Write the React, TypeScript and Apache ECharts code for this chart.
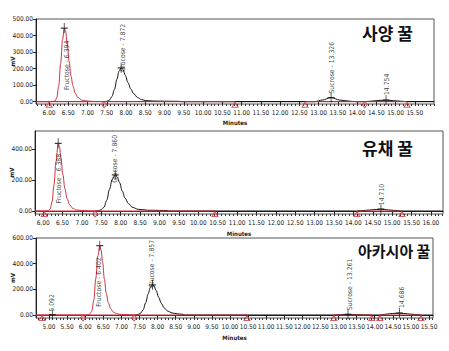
import React, { useEffect, useRef } from 'react';
import * as echarts from 'echarts';

// ---------------- DATA ----------------
// Panel 1 : 사양 꿀  (time [min], mV)
const p1Title = '사양 꿀';
const p1Trace: [number, number][] = [
  [5.66, 0], [6.0, 0], [6.1, 1], [6.16, 6], [6.2, 25], [6.25, 95], [6.3, 230], [6.35, 375], [6.394, 445],
  [6.43, 425], [6.47, 350], [6.52, 245], [6.57, 155], [6.62, 95], [6.68, 50], [6.75, 25], [6.85, 10],
  [6.95, 5], [7.1, 2], [7.25, 1], [7.43, 0], [7.5, 2], [7.57, 10], [7.63, 30], [7.7, 75], [7.76, 135],
  [7.82, 185], [7.872, 205], [7.92, 195], [7.98, 160], [8.05, 115], [8.12, 78], [8.2, 48], [8.3, 25],
  [8.4, 13], [8.5, 7], [8.7, 4], [9.0, 3], [9.4, 2], [9.45, 0], [12.9, 0], [13.1, 10], [13.326, 25],
  [13.55, 10], [13.85, 2], [14.0, 0], [14.2, 0], [14.35, 3], [14.55, 7], [14.754, 10], [14.95, 6],
  [15.3, 0], [16.0, 0],
];
const p1RedRange = [5.66, 7.43];
const p1Peaks = [
  { t: 6.394, v: 445, name: 'Fructose - 6.394' },
  { t: 7.872, v: 205, name: 'Glucose - 7.872' },
  { t: 13.326, v: 25, name: 'Sucrose - 13.326' },
  { t: 14.754, v: 10, name: '14.754' },
];
const p1Marks = [
  { t: 6.0, shape: 'triangle' }, { t: 7.43, shape: 'diamond' }, { t: 10.83, shape: 'triangle' },
  { t: 12.65, shape: 'triangle' }, { t: 14.2, shape: 'diamond' }, { t: 15.3, shape: 'triangle' },
];
const p1Baselines = [[5.66, 10.83], [12.65, 15.3]];
const p1XTicks = [6.0, 6.5, 7.0, 7.5, 8.0, 8.5, 9.0, 9.5, 10.0, 10.5, 11.0, 11.5, 12.0, 12.5, 13.0, 13.5, 14.0, 14.5, 15.0, 15.5];
const p1YTicks = [0, 100, 200, 300, 400, 500];

// Panel 2 : 유채 꿀
const p2Title = '유채 꿀';
const p2Trace: [number, number][] = [
  [5.79, 0], [6.03, 0], [6.12, 2], [6.18, 12], [6.23, 60], [6.28, 170], [6.33, 320], [6.388, 440],
  [6.42, 420], [6.46, 345], [6.51, 235], [6.56, 145], [6.62, 80], [6.68, 42], [6.76, 18], [6.86, 7],
  [7.0, 3], [7.2, 1], [7.34, 0], [7.42, 2], [7.5, 8], [7.57, 25], [7.64, 70], [7.71, 140], [7.78, 205],
  [7.86, 235], [7.91, 222], [7.97, 185], [8.04, 130], [8.11, 85], [8.2, 48], [8.3, 24], [8.45, 11],
  [8.7, 5], [9.0, 4], [9.2, 3], [9.25, 0], [14.09, 0], [14.3, 4], [14.5, 8], [14.71, 12], [14.9, 7],
  [15.25, 0], [16.31, 0],
];
const p2RedRange = [5.79, 7.34];
const p2Peaks = [
  { t: 6.388, v: 440, name: 'Fructose - 6.388' },
  { t: 7.86, v: 235, name: 'Glucose - 7.860' },
  { t: 14.71, v: 12, name: '14.710' },
];
const p2Marks = [
  { t: 6.03, shape: 'triangle' }, { t: 7.34, shape: 'diamond' }, { t: 10.43, shape: 'triangle' },
  { t: 14.09, shape: 'triangle' }, { t: 15.25, shape: 'triangle' },
];
const p2Baselines = [[5.79, 10.43], [14.09, 15.25]];
const p2XTicks = [6.0, 6.5, 7.0, 7.5, 8.0, 8.5, 9.0, 9.5, 10.0, 10.5, 11.0, 11.5, 12.0, 12.5, 13.0, 13.5, 14.0, 14.5, 15.0, 15.5, 16.0];
const p2YTicks = [0, 200, 400];

// Panel 3 : 아카시아 꿀
const p3Title = '아카시아 꿀';
const p3Trace: [number, number][] = [
  [4.64, 0], [5.05, 0], [5.092, 3], [5.14, 0], [5.94, 0], [6.05, 1], [6.12, 6], [6.18, 30], [6.24, 120],
  [6.29, 280], [6.35, 460], [6.402, 540], [6.44, 505], [6.48, 410], [6.53, 280], [6.58, 170], [6.64, 95],
  [6.7, 50], [6.78, 22], [6.88, 9], [7.0, 4], [7.2, 2], [7.35, 0], [7.45, 3], [7.53, 14], [7.6, 40],
  [7.67, 95], [7.74, 165], [7.8, 215], [7.857, 235], [7.9, 226], [7.96, 190], [8.03, 138], [8.1, 92],
  [8.18, 56], [8.28, 30], [8.4, 16], [8.55, 9], [8.7, 5], [8.75, 0], [12.87, 0], [13.05, 3], [13.261, 5],
  [13.5, 3], [13.92, 0], [14.14, 0], [14.3, 6], [14.5, 12], [14.686, 15], [14.9, 9], [15.1, 4],
  [15.28, 0], [15.61, 0],
];
const p3RedRange = [4.64, 7.35];
const p3Peaks = [
  { t: 5.092, v: 3, name: '5.092' },
  { t: 6.402, v: 540, name: 'Fructose - 6.402' },
  { t: 7.857, v: 235, name: 'Glucose - 7.857' },
  { t: 13.261, v: 5, name: 'Sucrose - 13.261' },
  { t: 14.686, v: 15, name: '14.686' },
];
const p3Marks = [
  { t: 4.81, shape: 'triangle' }, { t: 5.94, shape: 'diamond' }, { t: 7.35, shape: 'diamond' },
  { t: 10.47, shape: 'triangle' }, { t: 12.87, shape: 'triangle' }, { t: 13.92, shape: 'triangle' },
  { t: 14.14, shape: 'triangle' }, { t: 15.28, shape: 'triangle' },
];
const p3Baselines = [[4.64, 10.47], [12.87, 13.92], [14.14, 15.28]];
const p3XTicks = [5.0, 5.5, 6.0, 6.5, 7.0, 7.5, 8.0, 8.5, 9.0, 9.5, 10.0, 10.5, 11.0, 11.5, 12.0, 12.5, 13.0, 13.5, 14.0, 14.5, 15.0, 15.5];
const p3YTicks = [0, 200, 400, 600];

const xName = 'Minutes';
const yName = 'mV';

// ---------------- LAYOUT / STYLE ----------------
const RED = '#cf3340';
const INK = '#111111';
const TICK_FONT = '"Liberation Sans Narrow", "DejaVu Sans Condensed", Arial, sans-serif';
const PEAK_FONT = '"DejaVu Sans Condensed", "Liberation Sans Narrow", Arial, sans-serif';

const panels = [
  {
    trace: p1Trace, redRange: p1RedRange, peaks: p1Peaks, marks: p1Marks, baselines: p1Baselines,
    xTicks: p1XTicks, yTicks: p1YTicks, title: p1Title,
    grid: { left: 36, top: 19, width: 398, height: 85 },
    xMin: 5.66, xMax: 16.0, yMin: -14, yMax: 500,
    labelOffsets: [[3, 62], [2, 4], [1, -4], [1, -5]],
    titlePos: { left: 362, top: 24 }, titleSize: 17, nameGap: 15,
  },
  {
    trace: p2Trace, redRange: p2RedRange, peaks: p2Peaks, marks: p2Marks, baselines: p2Baselines,
    xTicks: p2XTicks, yTicks: p2YTicks, title: p2Title,
    grid: { left: 35, top: 131, width: 408, height: 83 },
    xMin: 5.79, xMax: 16.31, yMin: -19.5, yMax: 520,
    labelOffsets: [[1, 60], [0, 8], [1, -4]],
    titlePos: { left: 362, top: 139 }, titleSize: 17, nameGap: 16,
  },
  {
    trace: p3Trace, redRange: p3RedRange, peaks: p3Peaks, marks: p3Marks, baselines: p3Baselines,
    xTicks: p3XTicks, yTicks: p3YTicks, title: p3Title,
    grid: { left: 36, top: 238, width: 397, height: 80 },
    xMin: 4.64, xMax: 15.61, yMin: -23.4, yMax: 600,
    labelOffsets: [[0, -3], [-1, 61], [0, 3], [2, -4], [2, -5]],
    titlePos: { left: 358, top: 243 }, titleSize: 15, nameGap: 16,
  },
];

function buildOption() {
  const grid: any[] = [];
  const xAxis: any[] = [];
  const yAxis: any[] = [];
  const series: any[] = [];
  const graphic: any[] = [];

  panels.forEach((p, i) => {
    grid.push({ ...p.grid, show: true, borderColor: '#555', borderWidth: 1, outerBoundsMode: 'none', containLabel: false });

    const minor: number[] = [];
    for (let k = Math.ceil(p.xMin * 10); k <= Math.floor(p.xMax * 10); k++) minor.push(k / 10);

    xAxis.push({
      type: 'value', gridIndex: i, min: p.xMin, max: p.xMax, position: 'bottom',
      axisLine: { show: true, lineStyle: { color: '#222', width: 1 } },
      axisTick: { show: true, customValues: p.xTicks, length: 4, lineStyle: { color: '#222' } },
      axisLabel: {
        customValues: p.xTicks, formatter: (v: number) => v.toFixed(2), fontSize: 6.5,
        fontFamily: TICK_FONT, color: '#222', margin: 5,
      },
      splitLine: { show: false },
      name: xName, nameLocation: 'middle', nameGap: p.nameGap, nameMoveOverlap: false,
      nameTextStyle: { fontSize: 6, fontWeight: 'bold', fontFamily: TICK_FONT, color: '#222' },
    });
    xAxis.push({
      type: 'value', gridIndex: i, min: p.xMin, max: p.xMax, position: 'bottom',
      axisLine: { show: false },
      axisTick: { show: true, customValues: minor, length: 2, lineStyle: { color: '#333' } },
      axisLabel: { show: false },
      splitLine: { show: false },
    });
    yAxis.push({
      type: 'value', gridIndex: i, min: p.yMin, max: p.yMax,
      axisLine: { show: true, lineStyle: { color: '#222', width: 1 } },
      axisTick: { show: true, customValues: p.yTicks, length: 3, lineStyle: { color: '#222' } },
      axisLabel: {
        customValues: p.yTicks, formatter: (v: number) => v.toFixed(2), fontSize: 6.5,
        fontFamily: TICK_FONT, color: '#222', margin: 3,
      },
      splitLine: { show: false },
      name: yName, nameLocation: 'middle', nameGap: 21, nameRotate: 90, nameMoveOverlap: false,
      nameTextStyle: { fontSize: 6, fontWeight: 'bold', fontFamily: TICK_FONT, color: '#222' },
    });

    const xi = i * 2;
    const [r0, r1] = p.redRange;
    const black = p.trace.filter((d) => d[0] >= r1);
    const red = p.trace.filter((d) => d[0] >= r0 && d[0] <= r1);

    series.push({
      type: 'line', xAxisIndex: xi, yAxisIndex: i, data: black, showSymbol: false,
      smooth: 0.35, smoothMonotone: 'x', lineStyle: { color: INK, width: 1 }, z: 2, silent: true,
    });
    p.baselines.forEach((b) => {
      series.push({
        type: 'line', xAxisIndex: xi, yAxisIndex: i, data: [[b[0], 0], [b[1], 0]], showSymbol: false,
        lineStyle: { color: RED, width: 1 }, z: 3, silent: true,
      });
    });
    series.push({
      type: 'line', xAxisIndex: xi, yAxisIndex: i, data: red, showSymbol: false,
      smooth: 0.35, smoothMonotone: 'x', lineStyle: { color: RED, width: 1 }, z: 4, silent: true,
    });
    series.push({
      type: 'scatter', xAxisIndex: xi, yAxisIndex: i, z: 5, silent: true,
      data: p.marks.map((m) => ({
        value: [m.t, 0], symbol: m.shape, symbolSize: m.shape === 'triangle' ? [6, 5] : [5, 6],
      })),
      symbolOffset: [0, 3],
      itemStyle: { color: 'rgba(255,255,255,0)', borderColor: RED, borderWidth: 1 },
    });
    series.push({
      type: 'scatter', xAxisIndex: xi, yAxisIndex: i, z: 6, silent: true,
      data: p.peaks.map((pk) => [pk.t, pk.v]),
      symbol: 'path://M4,0L4,10M0,5L8,5', symbolSize: [7, 10],
      itemStyle: { color: 'rgba(0,0,0,0)', borderColor: INK, borderWidth: 1 },
    });
    series.push({
      type: 'scatter', xAxisIndex: xi, yAxisIndex: i, z: 7, silent: true,
      data: p.peaks.map((pk, k) => ({
        name: pk.name, value: [pk.t, pk.v], symbolOffset: p.labelOffsets[k],
      })),
      symbol: 'circle', symbolSize: 1,
      itemStyle: { color: 'rgba(0,0,0,0)' },
      label: {
        show: true, formatter: '{b}', position: 'inside', rotate: 90, align: 'left',
        verticalAlign: 'middle', fontSize: 6.8, fontFamily: PEAK_FONT, color: INK,
      },
    });

    graphic.push({
      type: 'text', left: p.titlePos.left, top: p.titlePos.top, z: 10,
      style: {
        text: p.title, fill: '#111', fontSize: p.titleSize, fontWeight: 'bold',
        fontFamily: '"Noto Sans CJK KR", "Noto Sans CJK SC", sans-serif',
      },
    });
  });

  return { animation: false, backgroundColor: '#ffffff', grid, xAxis, yAxis, series, graphic };
}

export default function App() {
  const ref = useRef<HTMLDivElement>(null);
  useEffect(() => {
    if (!ref.current) return;
    const chart = echarts.init(ref.current, undefined, { renderer: 'svg' });
    chart.setOption(buildOption() as any);
    return () => chart.dispose();
  }, []);
  return (
    <div
      ref={ref}
      style={{ position: 'absolute', left: 0, top: 0, width: 449, height: 351, background: '#fff' }}
    />
  );
}
